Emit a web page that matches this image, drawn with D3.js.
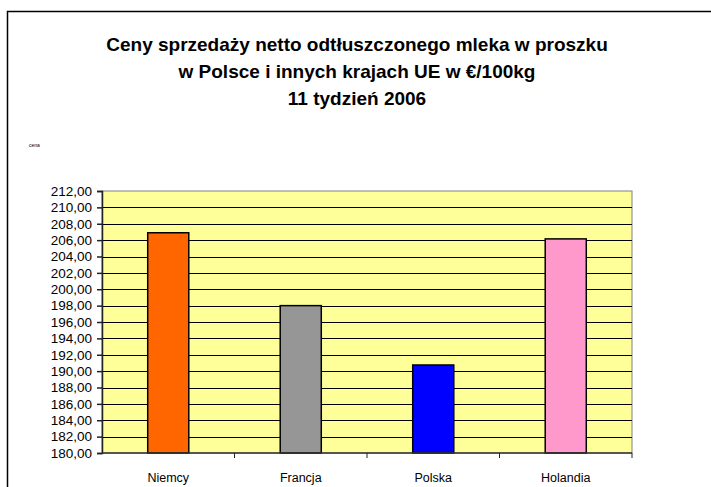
<html>
<head>
  <meta charset="utf-8">
  <script src="https://d3js.org/d3.v7.min.js"></script>
  <style>
    body { margin: 0; background: #fff; }
  </style>
</head>
<body>
<script>

// data
let countries = ["Niemcy", "Francja", "Polska", "Holandia"];
let prices = [206.9, 198.0, 190.75, 206.15];
let barColors = ["#ff6600", "#969696", "#0000ff", "#ff99cc"];
let yTicks = [180, 182, 184, 186, 188, 190, 192, 194, 196, 198, 200, 202, 204, 206, 208, 210, 212];
let titleLines = ["Ceny sprzedaży netto odtłuszczonego mleka w proszku",
                  "w Polsce i innych krajach UE w €/100kg",
                  "11 tydzień 2006"];

let canvasW = 711;
let canvasH = 487;

let plotL = 102, plotR = 632, plotT = 191, plotB = 453;

let svg = d3.select("body").append("svg")
  .attr("width", canvasW)
  .attr("height", canvasH)
  .style("display", "block");

// outer chart frame (runs off to the right and bottom)
svg.append("rect")
  .attr("x", 7.5).attr("y", 11.5)
  .attr("width", 720).attr("height", 500)
  .attr("fill", "#fff")
  .attr("stroke", "#000")
  .attr("stroke-width", 1.5);

let x = d3.scaleBand()
  .domain(countries)
  .range([plotL, plotR])
  .paddingInner(0.69)
  .paddingOuter(0.345);

let band = d3.scaleBand().domain(countries).range([plotL, plotR]);

let y = d3.scaleLinear()
  .domain([180, 212])
  .range([plotB, plotT]);

// plot background
svg.append("rect")
  .attr("x", plotL).attr("y", plotT)
  .attr("width", plotR - plotL).attr("height", plotB - plotT)
  .attr("fill", "#ffff99")
  .attr("stroke", "#808080")
  .attr("stroke-width", 1);

// gridlines
svg.selectAll()
  .data(yTicks.slice(1, -1))
  .enter()
  .append("line")
  .attr("x1", plotL).attr("x2", plotR)
  .attr("y1", d => Math.round(y(d)) + 0.5)
  .attr("y2", d => Math.round(y(d)) + 0.5)
  .attr("stroke", "#000")
  .attr("stroke-width", 1);

// bars
svg.selectAll()
  .data(prices)
  .enter()
  .append("rect")
  .attr("x", (d, i) => x(countries[i]))
  .attr("y", d => y(d))
  .attr("width", x.bandwidth())
  .attr("height", d => y(180) - y(d))
  .attr("fill", (d, i) => barColors[i])
  .attr("stroke", "#000")
  .attr("stroke-width", 1.5);

// y axis
let yAxis = svg.append("g")
  .attr("transform", "translate(" + plotL + ",0)")
  .call(d3.axisLeft(y)
    .tickValues(yTicks)
    .tickSize(5)
    .tickPadding(5)
    .tickFormat(d => d3.format(".2f")(d).replace(".", ",")));
yAxis.select(".domain").attr("stroke", "#222").attr("stroke-width", 1.5);
yAxis.selectAll(".tick line").attr("stroke", "#222").attr("stroke-width", 1.5);
yAxis.selectAll("text")
  .attr("font-family", "Arial, 'Liberation Sans', sans-serif")
  .attr("font-size", "13.5px")
  .attr("fill", "#000");

// x axis: ticks between categories
let xAxis = svg.append("g")
  .attr("transform", "translate(0," + plotB + ")");
xAxis.append("line")
  .attr("x1", plotL).attr("x2", plotR)
  .attr("y1", 0).attr("y2", 0)
  .attr("stroke", "#333").attr("stroke-width", 1.5);
xAxis.selectAll()
  .data(countries.slice(1).concat(["end"]))
  .enter()
  .append("line")
  .attr("x1", (d, i) => i < 3 ? band(d) : plotR)
  .attr("x2", (d, i) => i < 3 ? band(d) : plotR)
  .attr("y1", 0).attr("y2", 5)
  .attr("stroke", "#222").attr("stroke-width", 1);
xAxis.selectAll()
  .data(countries)
  .enter()
  .append("text")
  .attr("x", d => band(d) + band.bandwidth() / 2)
  .attr("y", 29)
  .attr("text-anchor", "middle")
  .attr("font-family", "Arial, 'Liberation Sans', sans-serif")
  .attr("font-size", "12.5px")
  .attr("fill", "#000")
  .text(d => d);

// title
svg.selectAll()
  .data(titleLines)
  .enter()
  .append("text")
  .attr("x", 357)
  .attr("y", (d, i) => 51 + i * 27)
  .attr("text-anchor", "middle")
  .attr("font-family", "Arial, 'Liberation Sans', sans-serif")
  .attr("font-weight", "bold")
  .attr("font-size", "19px")
  .attr("fill", "#000")
  .text(d => d);

// axis title
svg.append("text")
  .attr("x", 29)
  .attr("y", 147)
  .attr("font-family", "Arial, 'Liberation Sans', sans-serif")
  .attr("font-size", "5px")
  .attr("fill", "#000")
  .text("cena");

</script>
</body>
</html>
